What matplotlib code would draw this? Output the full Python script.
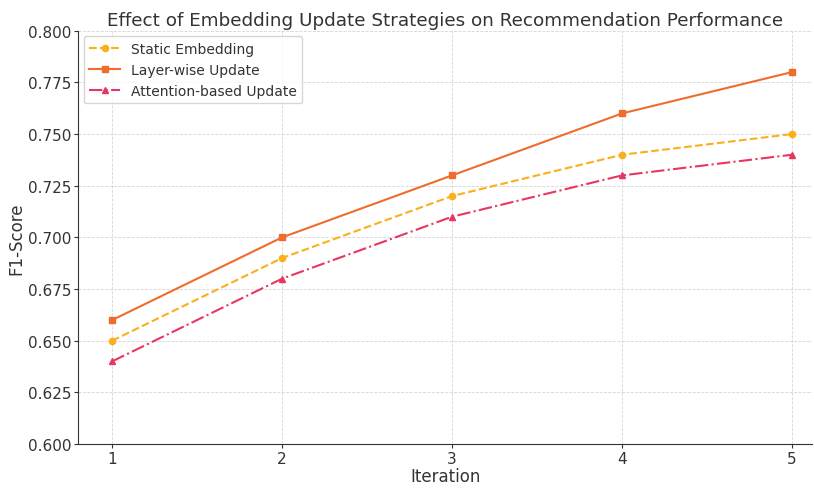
import matplotlib
matplotlib.use('Agg')
import matplotlib.pyplot as plt

iterations = [1, 2, 3, 4, 5]
static_emb = [0.65, 0.69, 0.72, 0.74, 0.75]
layer_wise = [0.66, 0.70, 0.73, 0.76, 0.78]
attention = [0.64, 0.68, 0.71, 0.73, 0.74]

fig, ax = plt.subplots(figsize=(8.14, 4.89), dpi=100)
fig.subplots_adjust(left=0.096, right=0.998, top=0.935, bottom=0.09)

ax.plot(iterations, static_emb, color='#f9b01c', linestyle='--', marker='o',
        markersize=4.5, linewidth=1.5, label='Static Embedding')
ax.plot(iterations, layer_wise, color='#f06c2c', linestyle='-', marker='s',
        markersize=4.5, linewidth=1.5, label='Layer-wise Update')
ax.plot(iterations, attention, color='#e8375f', linestyle='-.', marker='^',
        markersize=4.5, linewidth=1.5, label='Attention-based Update')

ax.set_ylim(0.6, 0.8)
ax.set_xlim(0.8, 5.12)
ax.set_xticks(iterations)
ax.set_yticks([0.600, 0.625, 0.650, 0.675, 0.700, 0.725, 0.750, 0.775, 0.800])
ax.yaxis.set_major_formatter(matplotlib.ticker.FormatStrFormatter('%.3f'))
ax.tick_params(labelsize=11, colors='#333333', length=3, pad=2)
ax.grid(True, linestyle='--', color='#cccccc', linewidth=0.6, alpha=0.8)
ax.spines['top'].set_visible(False)
ax.spines['right'].set_visible(False)
ax.spines['left'].set_color('#333333')
ax.spines['bottom'].set_color('#333333')

ax.set_title('Effect of Embedding Update Strategies on Recommendation Performance',
             fontsize=13.2, color='#333333', pad=4)
ax.set_xlabel('Iteration', fontsize=12, color='#333333', labelpad=1)
ax.set_ylabel('F1-Score', fontsize=12, color='#333333', labelpad=2)
leg = ax.legend(loc='upper left', fontsize=10, frameon=True,
                borderaxespad=0.4, handlelength=2.2)
for t in leg.get_texts():
    t.set_color('#333333')

fig.savefig('out.png', dpi=100)
